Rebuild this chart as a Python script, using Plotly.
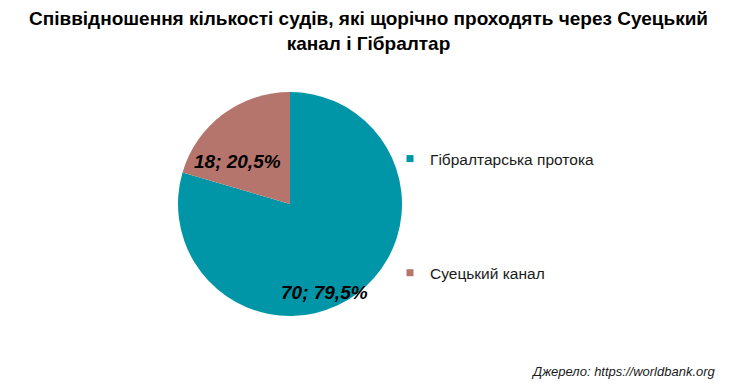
import plotly.graph_objects as go

title_text = "Співвідношення кількості судів, які щорічно проходять через Суецький<br>канал і Гібралтар"
labels = ["Гібралтарська протока", "Суецький канал"]
values = [70, 18]
colors = ["#0096A8", "#B6756C"]
source_text = "Джерело: https://worldbank.org"

W, H = 737, 385
CX, CY, R = 290, 204, 112  # pie centre and radius in pixels

total = sum(values)
label_texts = [f"<b><i>{v}; {v / total * 100:.1f}%</i></b>".replace(".", ",") for v in values]
# label offsets relative to pie centre, in units of radius (x right, y down)
label_offsets = [(0.31, 0.79), (-0.47, -0.375)]

fig = go.Figure()
fig.add_trace(go.Pie(
    labels=labels,
    values=values,
    sort=False,
    direction="clockwise",
    rotation=0,
    marker=dict(colors=colors, line=dict(width=0)),
    textinfo="none",
    showlegend=False,
    hoverinfo="label+value+percent",
    domain=dict(x=[(CX - R) / W, (CX + R) / W], y=[1 - (CY + R) / H, 1 - (CY - R) / H]),
))

for i, (lab, col) in enumerate(zip(labels, colors)):
    fig.add_trace(go.Scatter(
        x=[None], y=[None], mode="markers", name=lab,
        marker=dict(symbol="square", size=7, color=col),
        legendgroup=f"g{i}", showlegend=True,
    ))

annotations = [dict(
    text="<b>" + title_text + "</b>",
    x=0.5, y=1 - 6 / H, xref="paper", yref="paper",
    xanchor="center", yanchor="top", showarrow=False, align="center",
    font=dict(family="Liberation Sans, Arial", size=19, color="black"),
)]
for txt, (ox, oy) in zip(label_texts, label_offsets):
    annotations.append(dict(
        text=txt, x=(CX + ox * R) / W, y=1 - (CY + oy * R) / H,
        xref="paper", yref="paper", xanchor="center", yanchor="middle",
        showarrow=False,
        font=dict(family="Liberation Sans, Arial", size=19, color="black"),
    ))
annotations.append(dict(
    text="<i>" + source_text + "</i>",
    x=718 / W, y=1 - 371 / H, xref="paper", yref="paper",
    xanchor="right", yanchor="middle", showarrow=False,
    font=dict(family="Liberation Sans, Arial", size=13, color="#1a1a1a"),
))

fig.update_layout(
    width=W, height=H,
    margin=dict(l=0, r=0, t=0, b=0),
    paper_bgcolor="white", plot_bgcolor="white",
    xaxis=dict(visible=False), yaxis=dict(visible=False),
    legend=dict(
        x=390 / W, y=1 - 142 / H, xanchor="left", yanchor="top",
        font=dict(family="Liberation Sans, Arial", size=15.5, color="#1a1a1a"),
        tracegroupgap=91, itemwidth=30,
        bgcolor="rgba(0,0,0,0)",
    ),
    annotations=annotations,
)

fig.write_html("out.html", config={"displayModeBar": False},
               post_script="document.body.style.margin='0';document.body.style.overflow='hidden';")
